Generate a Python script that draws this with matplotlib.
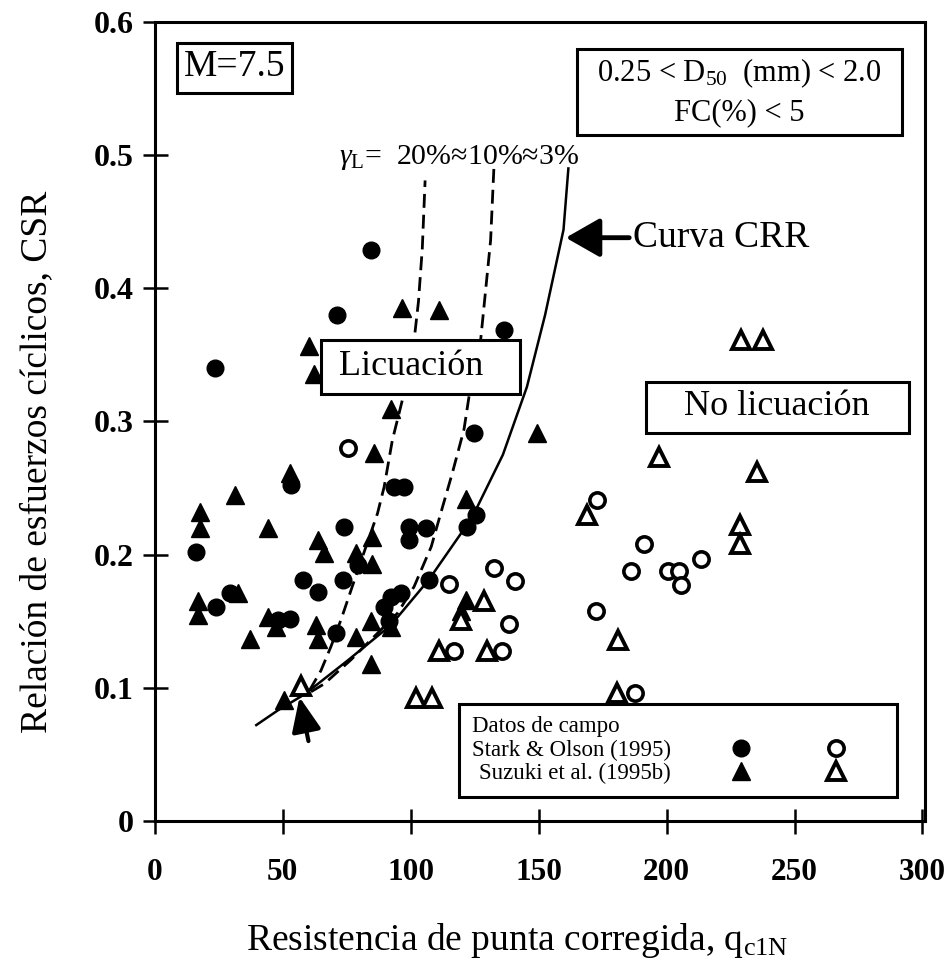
import matplotlib
matplotlib.use("Agg")
import matplotlib.pyplot as plt
from matplotlib.legend_handler import HandlerTuple
from matplotlib.patches import Rectangle

plt.rcParams["font.family"] = ["Liberation Serif", "DejaVu Serif"]
plt.rcParams["mathtext.fontset"] = "custom"
plt.rcParams["mathtext.rm"] = "Liberation Serif"
plt.rcParams["mathtext.it"] = "Liberation Serif:italic"
plt.rcParams["lines.scale_dashes"] = False

# Stark & Olson (1995): licuación (filled) / no licuación (open)
so_liq_q = [84.4, 71.2, 136.3, 23.4, 124.7, 53.2, 93.5, 97.4, 16.2, 74.0, 79.2, 99.3,
            105.8, 99.3, 125.3, 122.0, 107.1, 29.5, 24.0, 48.0, 52.6, 57.8, 63.6, 73.4,
            70.8, 91.5, 92.2, 96.1, 89.6]
so_liq_csr = [0.429, 0.380, 0.369, 0.340, 0.291, 0.252, 0.251, 0.251, 0.202, 0.221, 0.192, 0.221,
              0.220, 0.211, 0.230, 0.221, 0.181, 0.171, 0.161, 0.151, 0.152, 0.181, 0.172, 0.181,
              0.141, 0.150, 0.168, 0.171, 0.161]
so_noliq_q = [75.6, 114.9, 132.5, 140.9, 138.3, 116.9, 135.7, 172.7, 191.3, 213.3, 186.0,
              200.6, 204.9, 205.8, 172.4, 187.6]
so_noliq_csr = [0.280, 0.178, 0.190, 0.180, 0.148, 0.128, 0.128, 0.241, 0.208, 0.197, 0.188,
                0.188, 0.188, 0.177, 0.158, 0.096]

# Suzuki et al. (1995b)
su_liq_q = [96.7, 111.0, 60.4, 62.3, 92.2, 85.7, 149.3, 52.6, 31.2, 17.5, 17.5, 44.1, 63.6,
            66.2, 85.0, 78.6, 85.0, 121.4, 121.4, 119.5, 32.5, 16.9, 16.9, 44.1, 47.4, 37.0,
            63.0, 63.6, 78.6, 84.4, 92.2, 84.4, 50.6]
su_liq_csr = [0.385, 0.384, 0.357, 0.336, 0.309, 0.276, 0.291, 0.261, 0.245, 0.232, 0.220, 0.220,
              0.211, 0.201, 0.213, 0.201, 0.193, 0.242, 0.166, 0.158, 0.171, 0.165, 0.155, 0.153,
              0.146, 0.137, 0.147, 0.137, 0.138, 0.150, 0.146, 0.118, 0.091]
su_noliq_q = [119.5, 128.6, 111.0, 129.9, 102.0, 108.4, 57.1, 229.2, 237.6, 197.1, 235.3,
              168.8, 228.5, 228.5, 181.1, 180.5]
su_noliq_csr = [0.151, 0.165, 0.128, 0.128, 0.092, 0.092, 0.101, 0.361, 0.361, 0.273, 0.262,
                0.230, 0.222, 0.208, 0.136, 0.096]

# curvas
crr_q = [39.6, 48.0, 58.4, 75.0, 92.2, 107.0, 124.0, 136.0, 145.4, 152.5, 159.7, 161.6]
crr_csr = [0.072, 0.083, 0.095, 0.120, 0.147, 0.181, 0.228, 0.275, 0.326, 0.380, 0.444, 0.490]
g20_q = [60.4, 64.9, 68.8, 72.7, 78.0, 82.5, 87.0, 89.6, 92.8, 95.4, 98.5, 101.3, 103.0, 104.5, 105.6]
g20_csr = [0.098, 0.113, 0.131, 0.151, 0.181, 0.206, 0.231, 0.251, 0.286, 0.306, 0.330, 0.361,
           0.390, 0.430, 0.481]
g10_q = [61.0, 66.2, 76.6, 87.0, 94.8, 101.3, 108.0, 111.7, 116.2, 120.8, 122.7, 127.3, 131.2, 132.5]
g10_csr = [0.097, 0.103, 0.121, 0.141, 0.156, 0.176, 0.206, 0.231, 0.261, 0.294, 0.318, 0.361,
           0.436, 0.491]

x_ticks = [0, 50, 100, 150, 200, 250, 300]
x_tick_labels = ["0", "50", "100", "150", "200", "250", "300"]
y_ticks = [0, 0.1, 0.2, 0.3, 0.4, 0.5, 0.6]
y_tick_labels = ["0", "0.1", "0.2", "0.3", "0.4", "0.5", "0.6"]

fig = plt.figure(figsize=(9.46, 9.68), dpi=100)
ax = fig.add_axes([0.1638, 0.1519, 0.814, 0.8254])
ax.set_xlim(0, 301)
ax.set_ylim(0, 0.6)

ax.plot(crr_q, crr_csr, color="black", lw=1.8, zorder=2)
ax.plot(g20_q, g20_csr, color="black", lw=2.0, dashes=[10, 5], zorder=2)
ax.plot(g10_q, g10_csr, color="black", lw=2.0, dashes=[10, 5], zorder=2)

h_so_f, = ax.plot(so_liq_q, so_liq_csr, "o", ms=12, color="black", ls="none", zorder=3)
h_so_o, = ax.plot(so_noliq_q, so_noliq_csr, "o", ms=11, mfc="white", mec="black", mew=2.6,
                  ls="none", zorder=3)
h_su_f, = ax.plot(su_liq_q, su_liq_csr, "^", ms=13, color="black", ls="none", zorder=3)
h_su_o, = ax.plot(su_noliq_q, su_noliq_csr, "^", ms=12.5, mfc="white", mec="black", mew=2.8,
                  ls="none", zorder=3)

# cajas de texto
for x0, y0, w, h in [(65.0, 0.321, 77.8, 0.040), (192.0, 0.291, 102.8, 0.039),
                     (8.6, 0.547, 44.8, 0.037), (164.8, 0.515, 127.4, 0.065)]:
    ax.add_patch(Rectangle((x0, y0), w, h, fc="white", ec="black", lw=2.2, zorder=4))

ax.text(100.0, 0.3415, "Licuación", fontsize=26, ha="center", va="center", zorder=5)
ax.text(243.0, 0.311, "No licuación", fontsize=26, ha="center", va="center", zorder=5)
ax.text(31.0, 0.566, "M=7.5", fontsize=27, ha="center", va="center", zorder=5)
ax.text(228.5, 0.5616, r"0.25 < D$_{50}$  (mm) < 2.0", fontsize=22, ha="center", va="center", zorder=5)
ax.text(228.5, 0.532, "FC(%) < 5", fontsize=22, ha="center", va="center", zorder=5)
ax.text(72.0, 0.4985, r"$\gamma_{\mathrm{L}}$=  20%≈10%≈3%", fontsize=21.5, ha="left", va="center",
        zorder=5)

ax.annotate("Curva CRR", xy=(160.6, 0.438), xytext=(187.0, 0.438), fontsize=27,
            ha="left", va="center", zorder=5,
            arrowprops=dict(arrowstyle="-|>,head_length=0.7,head_width=0.4", mutation_scale=30,
                            lw=3.5, color="black", shrinkA=1, shrinkB=0))
ax.annotate("", xy=(56.5, 0.093), xytext=(60.0, 0.060), zorder=5,
            arrowprops=dict(arrowstyle="-|>,head_length=0.7,head_width=0.3", mutation_scale=30,
                            lw=3.0, color="black", shrinkA=0, shrinkB=0))

leg = ax.legend(handles=[(h_so_f, h_so_o), (h_su_f, h_su_o)],
                labels=["Stark & Olson (1995)", "Suzuki et al. (1995b)"],
                title="Datos de campo", title_fontsize=16.5, fontsize=16.5,
                handler_map={tuple: HandlerTuple(ndivide=None, pad=0)},
                markerfirst=False, alignment="left", loc="lower right",
                bbox_to_anchor=(0.978, 0.016), handlelength=8.3, handletextpad=1.0,
                borderpad=0.55, labelspacing=0.1, frameon=True, fancybox=False,
                edgecolor="black", framealpha=1)
leg.get_frame().set_linewidth(2.2)
leg.set_zorder(6)

ax.set_xticks(x_ticks)
ax.set_xticklabels(x_tick_labels, fontsize=22.5, fontweight="bold")
ax.set_yticks(y_ticks)
ax.set_yticklabels(y_tick_labels, fontsize=23, fontweight="bold")
ax.tick_params(direction="inout", length=18, width=1.8)
ax.tick_params(axis="x", pad=18)
ax.tick_params(axis="y", pad=6)
for sp in ax.spines.values():
    sp.set_linewidth(2.2)

ax.set_xlabel(r"Resistencia de punta corregida, q$_{\mathrm{c1N}}$", fontsize=27)
ax.set_ylabel("Relación de esfuerzos cíclicos, CSR", fontsize=27)
ax.xaxis.set_label_coords(0.47, -0.125)
ax.yaxis.set_label_coords(-0.131, 0.449)

fig.savefig("out.png", dpi=100)
